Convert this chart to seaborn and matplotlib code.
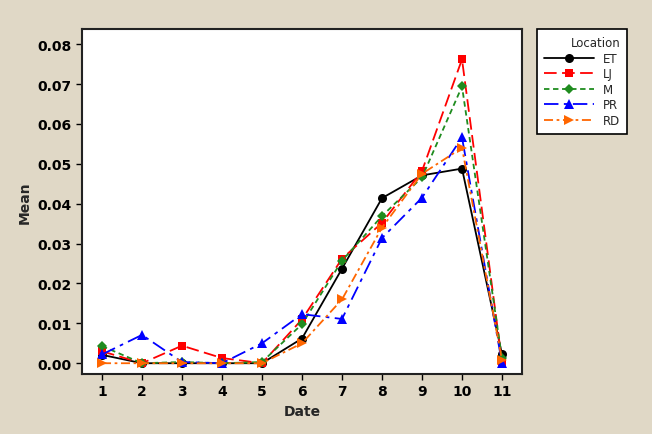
import numpy as np
import pandas as pd
import matplotlib
matplotlib.use('Agg')
import matplotlib.pyplot as plt
import seaborn as sns

dates = list(range(1, 12))
locations = ['ET', 'LJ', 'M', 'PR', 'RD']
et = [0.0021, 0.0, 0.0, 0.0, 0.0, 0.0062, 0.0237, 0.0414, 0.0471, 0.0488, 0.0022]
lj = [0.0030, 0.0, 0.0044, 0.0013, 0.0, 0.0110, 0.0262, 0.0352, 0.0482, 0.0762, 0.0004]
m = [0.0043, 0.0, 0.0003, 0.0, 0.0003, 0.0098, 0.0257, 0.0369, 0.0466, 0.0694, 0.0012]
pr = [0.0022, 0.0071, 0.0003, 0.0, 0.0050, 0.0123, 0.0111, 0.0314, 0.0415, 0.0566, 0.0]
rd = [0.0, 0.0, 0.0, 0.0, 0.0, 0.0050, 0.0160, 0.0340, 0.0475, 0.0540, 0.0008]

df = pd.DataFrame({'Date': dates * 5,
                   'Mean': et + lj + m + pr + rd,
                   'Location': sum([[loc] * 11 for loc in locations], [])})

bg = '#e0d8c6'
sns.set_style('ticks')
plt.rcParams['font.family'] = ['DejaVu Sans']

fig = plt.figure(figsize=(6.52, 4.35), dpi=100, facecolor=bg)
ax = fig.add_axes([82 / 652, 1 - 375 / 435, 440 / 652, 345 / 435])

palette = {'ET': 'black', 'LJ': '#ff0000', 'M': '#1f8c1f', 'PR': '#0000ff', 'RD': '#ff6600'}
markers = {'ET': 'o', 'LJ': 's', 'M': 'D', 'PR': '^', 'RD': '>'}
dashes = {'ET': '', 'LJ': (7, 3), 'M': (3, 2), 'PR': (8, 3, 2, 3), 'RD': (5, 2, 1.5, 2)}
msize = {'ET': 6.5, 'LJ': 6, 'M': 5, 'PR': 6.5, 'RD': 6.5}

sns.lineplot(data=df, x='Date', y='Mean', hue='Location', style='Location',
             palette=palette, markers=markers, dashes=dashes,
             markeredgewidth=0, linewidth=1.3, ax=ax)
for line, loc in zip(ax.get_lines(), locations):
    line.set_markersize(msize[loc])

ax.set_xlim(0.5, 11.5)
ax.set_ylim(-0.0027, 0.0838)
ax.set_xticks(dates)
ax.set_yticks(np.arange(0, 0.081, 0.01))
ax.set_yticklabels([f'{v:.2f}' for v in np.arange(0, 0.081, 0.01)])
ax.tick_params(labelsize=10, width=1, length=4, colors='black')
for lab in ax.get_xticklabels() + ax.get_yticklabels():
    lab.set_fontweight('bold')
for s in ax.spines.values():
    s.set_linewidth(1.5)
    s.set_color('#222222')
ax.set_xlabel('Date', fontsize=10, fontweight='bold')
ax.set_ylabel('Mean', fontsize=10, fontweight='bold')

handles, labels = ax.get_legend_handles_labels()
for h, loc in zip(handles, labels):
    h.set_markersize(msize[loc])
leg = fig.legend(handles, labels, title='Location', loc='upper left',
                 bbox_to_anchor=(537 / 652, 1 - 30 / 435), fontsize=8.5,
                 title_fontsize=8.5, frameon=True, fancybox=False, framealpha=1,
                 handlelength=4.2, borderpad=0.6, labelspacing=0.22,
                 handletextpad=0.8, borderaxespad=0)
leg.get_frame().set_edgecolor('black')
leg.get_frame().set_facecolor('white')
leg.get_frame().set_linewidth(1.2)
leg._legend_box.align = 'right'
ax.get_legend().remove()

fig.savefig('out.png', dpi=100, facecolor=bg)
